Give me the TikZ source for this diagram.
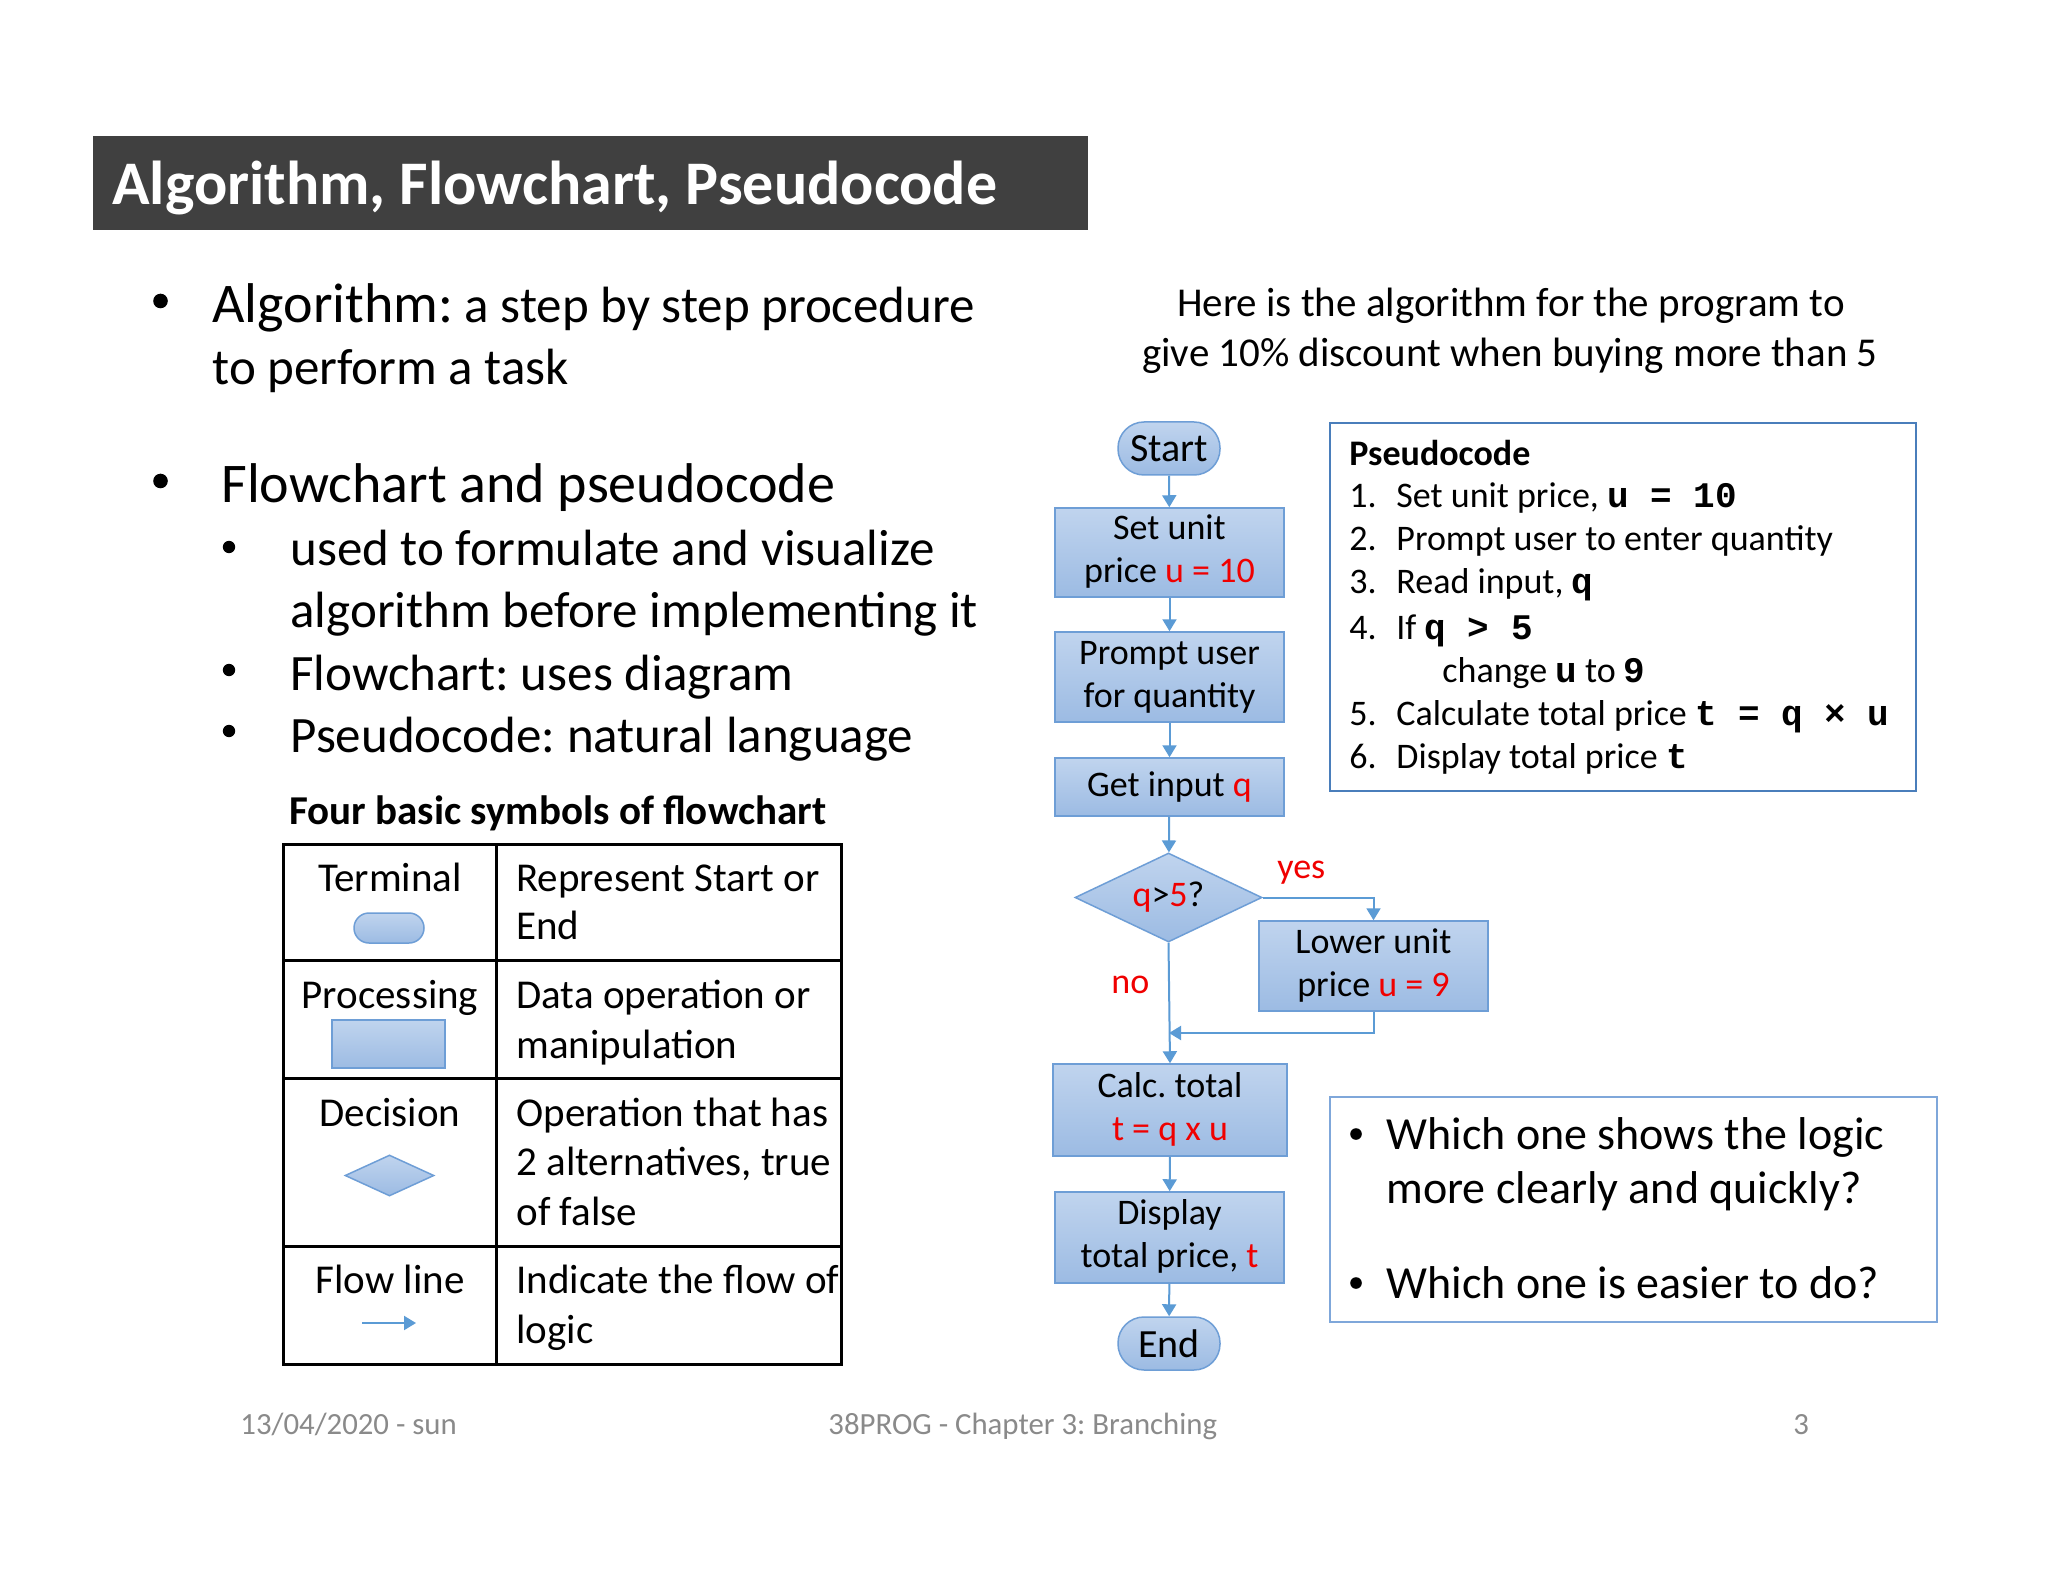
\documentclass[tikz,border=0pt]{standalone}
\usepackage{fontspec}
\setmainfont{Carlito}
\setmonofont{Liberation Mono}
\usetikzlibrary{arrows.meta,shapes.geometric}
\frenchspacing
\definecolor{boxtop}{HTML}{C0D4EE}
\definecolor{boxbot}{HTML}{9CBBE3}
\definecolor{boxline}{HTML}{6E9ED6}
\definecolor{flowc}{HTML}{5B9BD5}
\definecolor{redt}{HTML}{F00000}
\definecolor{titlebg}{HTML}{404040}
\definecolor{pcline}{HTML}{4A7EBB}
\definecolor{qline}{HTML}{7FA7DA}
\definecolor{foot}{HTML}{8A8A8A}
\newcommand{\fsz}[2]{\fontsize{#1}{#2}\selectfont}
\newcommand{\rd}[1]{\textcolor{redt}{#1}}
\newcommand{\mb}[1]{{\ttfamily\bfseries #1}}
\tikzset{
  txt/.style={anchor=base west, inner sep=0pt},
  ctxt/.style={anchor=base, inner sep=0pt},
  bulA/.style={circle, fill=black, inner sep=0pt, minimum size=7.3pt},
  bulB/.style={circle, fill=black, inner sep=0pt, minimum size=6.2pt},
  bulC/.style={circle, fill=black, inner sep=0pt, minimum size=5.8pt},
  proc/.style={draw=boxline, line width=0.75pt, top color=boxtop, bottom color=boxbot,
    minimum width=114.5pt, align=center, inner sep=0pt, font=\fsz{18}{21.6}},
  term/.style={proc, rounded corners=13pt, minimum width=51pt, minimum height=26.5pt, font=\fsz{20}{24}},
  decis/.style={diamond, aspect=2.1, draw=boxline, line width=0.75pt, top color=boxtop, bottom color=boxbot,
    minimum width=93.5pt, minimum height=44.5pt, inner sep=0pt, font=\fsz{18}{21.6}},
  flow/.style={draw=flowc, line width=1pt, -{Triangle[width=7pt,length=6pt]}},
  tabline/.style={line width=1.5pt, black}
}
\begin{document}
\begin{tikzpicture}[x=0.5pt,y=-0.5pt]
\fill[white] (0,0) rectangle (2048,1582);
\useasboundingbox (0,0) rectangle (2048,1582);

% title bar
\fill[titlebg] (93,136) rectangle (1088,230);
\node[txt, text=white, font=\bfseries\fsz{31}{37}] (title) at (112,205) {Algorithm, Flowchart, Pseudocode};

% left bullets
\node[bulA] (b1) at (160.5,301) {};
\node[txt] (a1) at (212,323) {{\fsz{28}{33}Algorithm:}{\fsz{25.5}{30} a step by step procedure}};
\node[txt, font=\fsz{25.5}{30}] (a2) at (212,385) {to perform a task};
\node[bulA] (b2) at (160.5,481) {};
\node[txt, font=\fsz{28}{33}] (f1) at (221,503) {Flowchart and pseudocode};
\node[bulB] (sb1) at (229,547) {};
\node[txt, font=\fsz{25.5}{30}] (s1) at (290,566) {used to formulate and visualize};
\node[txt, font=\fsz{25.5}{30}] (s1b) at (290,627) {algorithm before implementing it};
\node[bulB] (sb2) at (229,670) {};
\node[txt, font=\fsz{25.5}{30}] (s2) at (290,690) {Flowchart: uses diagram};
\node[bulB] (sb3) at (229,731) {};
\node[txt, font=\fsz{25.5}{30}] (s3) at (290,752) {Pseudocode: natural language};

% table
\node[txt, font=\bfseries\fsz{20.5}{24.6}] (fourb) at (289,824) {Four basic symbols of flowchart};
\draw[tabline] (283,844) rectangle (841,1364);
\draw[tabline] (496,844) -- (496,1364);
\draw[tabline] (283,960) -- (841,960);
\draw[tabline] (283,1078) -- (841,1078);
\draw[tabline] (283,1246) -- (841,1246);
\begin{scope}[font=\fsz{20.5}{24.6}]
\node[ctxt] (t1) at (390,891) {Terminal};
\node[ctxt] (t2) at (390,1008) {Processing};
\node[ctxt] (t3) at (390,1126) {Decision};
\node[ctxt] (t4) at (390,1293) {Flow line};
\node[txt] (r1a) at (516,891) {Represent Start or};
\node[txt] (r1b) at (516,939) {End};
\node[txt] (r2a) at (516,1008) {Data operation or};
\node[txt] (r2b) at (516,1058) {manipulation};
\node[txt] (r3a) at (516,1126) {Operation that has};
\node[txt] (r3b) at (516,1175) {2 alternatives, true};
\node[txt] (r3c) at (516,1225) {of false};
\node[txt] (r4a) at (516,1293) {Indicate the flow of};
\node[txt] (r4b) at (516,1343) {logic};
\end{scope}
\node[term, minimum width=35pt, minimum height=15pt, rounded corners=7.5pt] (legterm) at (389,928) {};
\node[proc, minimum width=56.5pt, minimum height=24pt] (legproc) at (388.5,1044) {};
\node[decis, minimum width=44.5pt, minimum height=20.5pt] (legdec) at (389.5,1175.5) {};
\coordinate (legA) at (362,1323);
\coordinate (legB) at (416,1323);
\draw[flow] (legA) -- (legB);

% header on the right
\node[ctxt, font=\fsz{20.5}{24.6}] (h1) at (1511,317) {Here is the algorithm for the program to};
\node[ctxt, font=\fsz{20.5}{24.6}] (h2) at (1510,367) {give 10\% discount when buying more than 5};

% flowchart
\node[term] (start) at (1169,448.5) {Start};
\node[proc, minimum height=44.5pt] (setu) at (1169.5,552.5) {\raisebox{-2pt}{\begin{tabular}{@{}c@{}}Set unit\\price \rd{u = 10}\end{tabular}}};
\node[proc, minimum height=45pt] (prompt) at (1169.5,677) {\raisebox{-2pt}{\begin{tabular}{@{}c@{}}Prompt user\\for quantity\end{tabular}}};
\node[proc, minimum height=29pt] (getq) at (1169.5,787) {Get input \rd{q}};
\node[decis] (dec) at (1168.5,897.5) {\raisebox{-1pt}{\rd{q}>\rd{5}?}};
\node[proc, minimum height=45pt] (lower) at (1373.5,966) {\raisebox{-2pt}{\begin{tabular}{@{}c@{}}Lower unit\\price \rd{u = 9}\end{tabular}}};
\node[proc, minimum width=117pt, minimum height=46pt] (calc) at (1170,1110) {\raisebox{-2pt}{\begin{tabular}{@{}c@{}}Calc. total\\\rd{t = q x u}\end{tabular}}};
\node[proc, minimum height=45.5pt] (disp) at (1169.5,1237.5) {\raisebox{-2pt}{\begin{tabular}{@{}c@{}}Display\\total price, \rd{t}\end{tabular}}};
\node[term] (end) at (1169,1343.5) {End};
\coordinate (j) at (1169,1033);
\node[txt, font=\fsz{18}{21.6}, text=redt] (yes) at (1277,878) {yes};
\node[txt, font=\fsz{18}{21.6}, text=redt] (no) at (1111,993) {no};

\draw[flow] (start) -- (setu);
\draw[flow] (setu) -- (prompt);
\draw[flow] (prompt) -- (getq);
\draw[flow] (getq) -- (dec);
\draw[flow] (dec.east) -| (lower.north);
\draw[flow] (dec.south) -- (calc.north);
\draw[flow] (lower.south) |- (j);
\draw[flow] (calc) -- (disp);
\draw[flow] (disp) -- (end);

% pseudocode box
\draw[pcline, line width=1pt] (1330,423) rectangle (1916,791);
\begin{scope}[font=\fsz{18}{21.6}]
\node[txt] (ph) at (1349,466) {\bfseries Pseudocode};
\node[txt] (n1) at (1349,508) {1.};
\node[txt] (p1) at (1396,508) {Set unit price, \mb{u = 10}};
\node[txt] (n2) at (1349,551) {2.};
\node[txt] (p2) at (1396,551) {Prompt user to enter quantity};
\node[txt] (n3) at (1349,594) {3.};
\node[txt] (p3) at (1396,594) {Read input, \mb{q}};
\node[txt] (n4) at (1349,639) {4.};
\node[txt] (p4) at (1396,639) {If \mb{q > 5}};
\node[txt] (p4b) at (1442,682) {change \mb{u} to \mb{9}};
\node[txt] (n5) at (1349,725) {5.};
\node[txt] (p5) at (1396,725) {Calculate total price \mb{t = q × u}};
\node[txt] (n6) at (1349,768) {6.};
\node[txt] (p6) at (1396,768) {Display total price \mb{t}};
\end{scope}

% question box
\draw[qline, line width=1pt] (1330,1097) rectangle (1937,1322);
\begin{scope}[font=\fsz{23}{27.6}]
\node[bulC] (qb1) at (1356,1134) {};
\node[txt] (q1a) at (1386,1149) {Which one shows the logic};
\node[txt] (q1b) at (1386,1203) {more clearly and quickly?};
\node[bulC] (qb2) at (1356,1283) {};
\node[txt] (q2) at (1386,1298) {Which one is easier to do?};
\end{scope}

% footer
\begin{scope}[font=\fsz{15.4}{18.5}, text=foot]
\node[txt] (ft1) at (240,1434) {13/04/2020 - sun};
\node[txt] (ft2) at (828,1434) {38PROG - Chapter 3: Branching};
\node[txt] (ft3) at (1793,1434) {3};
\end{scope}
\end{tikzpicture}
\end{document}
